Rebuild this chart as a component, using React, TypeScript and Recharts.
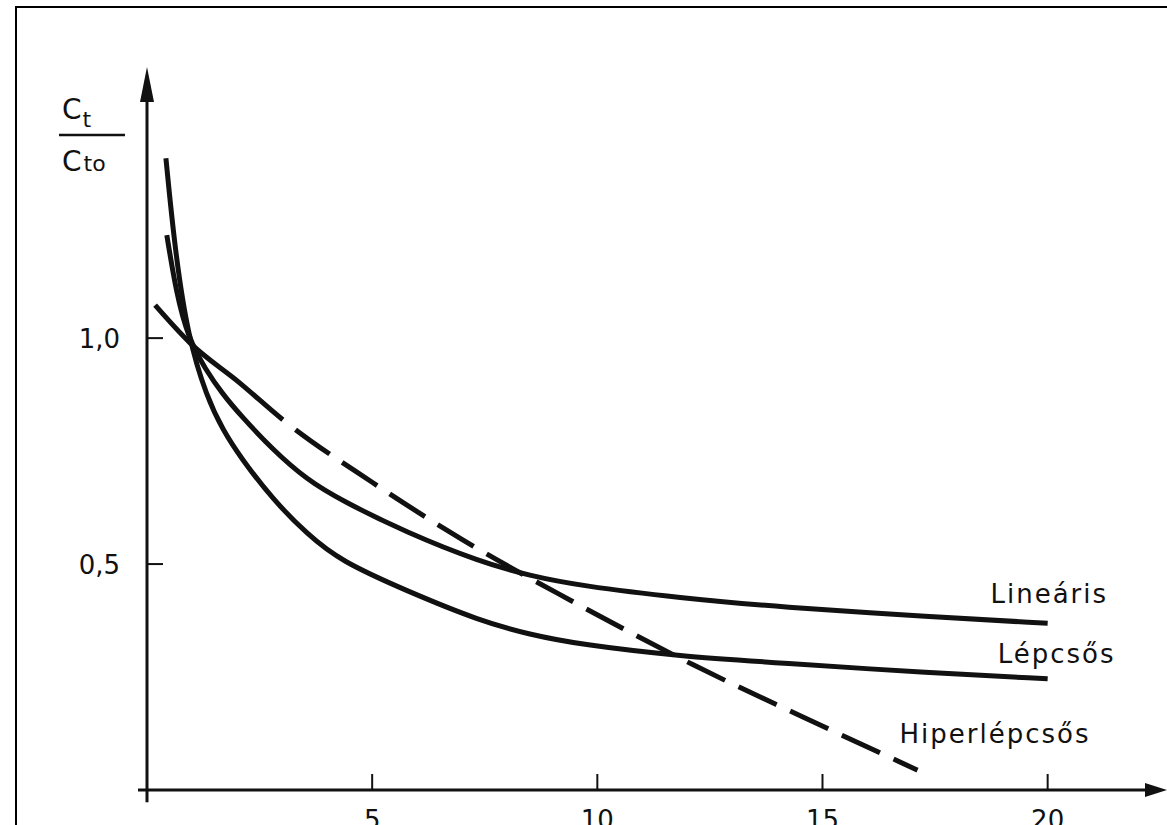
import { LineChart, Line, XAxis, YAxis, ReferenceLine, ReferenceDot } from 'recharts'

// axis ticks
const xTicks = [5, 10, 15, 20]
const yTicks = [0.5, 1.0]
const xMax = 22.65
const yMax = 1.6

// Lineáris
const linX = [0.44, 0.65, 0.91, 1.3, 1.69, 2.07, 2.8, 3.56, 4.29, 5.78, 7.4, 8.5, 9.62, 11.84, 14.07, 17.4, 20]
const linY = [1.228, 1.1, 1.002, 0.93, 0.875, 0.83, 0.752, 0.686, 0.642, 0.569, 0.505, 0.474, 0.452, 0.425, 0.405, 0.383, 0.369]

// Lépcsős
const lepX = [0.42, 0.62, 0.91, 1.33, 1.69, 2.07, 2.8, 3.56, 4.29, 5.78, 7.4, 8.5, 9.62, 11.84, 14.07, 17.4, 20]
const lepY = [1.398, 1.195, 1.002, 0.869, 0.796, 0.737, 0.642, 0.566, 0.507, 0.44, 0.374, 0.344, 0.322, 0.296, 0.281, 0.259, 0.246]

// Hiperlépcsős
const hipX = [0.18, 0.96, 2.07, 3.02, 5.0, 7.02, 9.4, 12.13, 14.47, 17.11]
const hipY = [1.073, 0.989, 0.9, 0.819, 0.681, 0.553, 0.42, 0.277, 0.166, 0.044]

const toPoints = (xs: number[], ys: number[]) => xs.map((x, i) => ({ x, y: ys[i] }))
const linData = toPoints(linX, linY)
const lepData = toPoints(lepX, lepY)
const hipData = toPoints(hipX, hipY)

const INK = '#111'
const FONT = '"DejaVu Sans", sans-serif'

const dashes = '172 16 ' + Array(30).fill('42 15').join(' ')

function XTick({ x, y, payload }: any) {
  return (
    <g>
      <line x1={x} y1={y} x2={x} y2={y - 16} stroke={INK} strokeWidth={2} />
      <text x={x} y={y + 39} textAnchor="middle" fontSize={26} fontFamily={FONT} fill={INK}>
        {payload.value}
      </text>
    </g>
  )
}

function YTick({ x, y, payload }: any) {
  return (
    <g>
      <line x1={x} y1={y} x2={x + 16} y2={y} stroke={INK} strokeWidth={2} />
      <text x={x - 27} y={y + 10} textAnchor="end" fontSize={26} fontFamily={FONT} fill={INK}>
        {payload.value.toFixed(1).replace('.', ',')}
      </text>
    </g>
  )
}

const ArrowUp = ({ cx, cy }: any) => (
  <polygon points={`${cx},${cy} ${cx - 7},${cy + 35} ${cx + 7},${cy + 35}`} fill={INK} />
)

const ArrowRight = ({ cx, cy }: any) => (
  <polygon points={`${cx},${cy} ${cx - 22},${cy - 7} ${cx - 22},${cy + 7}`} fill={INK} />
)

const seriesName = (name: string) => ({ cx, cy }: any) => (
  <text x={cx} y={cy} fontSize={26} fontFamily={FONT} letterSpacing={2} fill={INK}>
    {name}
  </text>
)

const Fraction = ({ cx, cy }: any) => (
  <g fontFamily={FONT} fill={INK}>
    <text x={cx - 85} y={cy + 52} fontSize={28}>
      C<tspan fontSize={22} dx={1} dy={8}>t</tspan>
    </text>
    <line x1={cx - 88} y1={cy + 68} x2={cx - 22} y2={cy + 68} stroke={INK} strokeWidth={2.5} />
    <text x={cx - 85} y={cy + 104} fontSize={28}>
      C<tspan fontSize={22} dx={2}>to</tspan>
    </text>
  </g>
)

export default function App() {
  return (
    <div style={{ position: 'fixed', left: 0, top: 0, width: 1167, height: 825, overflow: 'hidden', background: '#fff' }}>
      <div
        style={{
          position: 'absolute',
          left: 15,
          top: 6,
          width: 1300,
          height: 1000,
          border: '2px solid #000',
          boxSizing: 'border-box',
        }}
      />
      <div style={{ position: 'absolute', left: 0, top: 0 }}>
        <LineChart width={1167} height={825} margin={{ top: 67, right: 0, bottom: 5, left: 87 }}>
          <XAxis
            type="number"
            dataKey="x"
            domain={[0, xMax]}
            ticks={xTicks}
            axisLine={false}
            tickLine={false}
            tickSize={0}
            tickMargin={0}
            height={30}
            tick={<XTick />}
            allowDataOverflow
          />
          <YAxis
            type="number"
            dataKey="y"
            domain={[0, yMax]}
            ticks={yTicks}
            axisLine={false}
            tickLine={false}
            tickSize={0}
            tickMargin={0}
            width={60}
            tick={<YTick />}
            allowDataOverflow
          />
          <ReferenceLine
            segment={[{ x: -0.2, y: 0 }, { x: xMax - 0.3, y: 0 }]}
            stroke={INK}
            strokeWidth={3}
            ifOverflow="visible"
          />
          <ReferenceLine
            segment={[{ x: 0, y: -0.027 }, { x: 0, y: yMax - 0.04 }]}
            stroke={INK}
            strokeWidth={3}
            ifOverflow="visible"
          />
          <ReferenceDot x={xMax} y={0} ifOverflow="visible" shape={ArrowRight} />
          <ReferenceDot x={0} y={yMax} ifOverflow="visible" shape={ArrowUp} />
          <ReferenceDot x={0} y={yMax} ifOverflow="visible" shape={Fraction} />

          <Line data={linData} dataKey="y" type="basis" stroke={INK} strokeWidth={5} dot={false} isAnimationActive={false} />
          <Line data={lepData} dataKey="y" type="basis" stroke={INK} strokeWidth={5} dot={false} isAnimationActive={false} />
          <Line
            data={hipData}
            dataKey="y"
            type="monotone"
            stroke={INK}
            strokeWidth={5}
            strokeDasharray={dashes}
            dot={false}
            isAnimationActive={false}
          />

          <ReferenceDot x={18.73} y={0.414} ifOverflow="visible" shape={seriesName('Lineáris')} />
          <ReferenceDot x={18.89} y={0.281} ifOverflow="visible" shape={seriesName('Lépcsős')} />
          <ReferenceDot x={16.71} y={0.104} ifOverflow="visible" shape={seriesName('Hiperlépcsős')} />
        </LineChart>
      </div>
    </div>
  )
}
